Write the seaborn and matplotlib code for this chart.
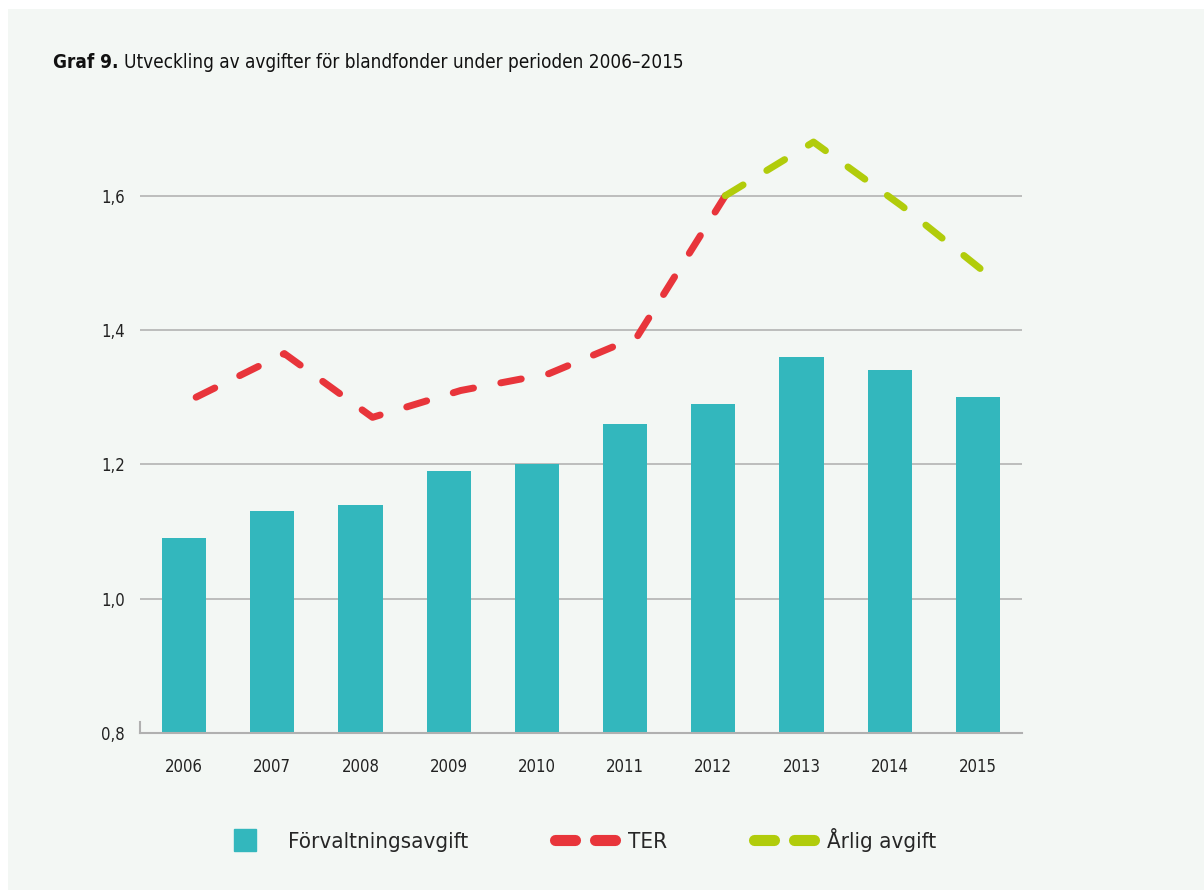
import numpy as np
import pandas as pd
import seaborn as sns
import matplotlib.pyplot as plt
from matplotlib.lines import Line2D
from matplotlib.patches import Rectangle
from matplotlib.ticker import FuncFormatter
from matplotlib.transforms import ScaledTranslation

# data
years = ['2006', '2007', '2008', '2009', '2010', '2011', '2012', '2013', '2014', '2015']
forvaltning = [1.09, 1.13, 1.14, 1.19, 1.20, 1.26, 1.29, 1.36, 1.34, 1.30]
ter = [1.30, 1.365, 1.27, 1.31, 1.335, 1.39, 1.60, np.nan, np.nan, np.nan]
arlig = [np.nan, np.nan, np.nan, np.nan, np.nan, np.nan, 1.60, 1.68, 1.585, 1.48]

teal = '#33b7bd'
red = '#e8353b'
green = '#b1cc0b'
bg = '#f3f7f4'

sns.set_style('white')
plt.rcParams['font.family'] = ['Liberation Sans Narrow', 'DejaVu Sans']
plt.rcParams['font.stretch'] = 'condensed'

df = pd.DataFrame({'year': years, 'forv': forvaltning, 'ter': ter, 'arlig': arlig})

fig = plt.figure(figsize=(12.04, 8.9), dpi=100, facecolor='white')
fig.patches.append(Rectangle((8 / 1204, 0), 1, 1 - 9 / 890, transform=fig.transFigure,
                             facecolor=bg, edgecolor='none', zorder=-10))
ax = fig.add_axes([140 / 1204, 1 - 733 / 890, 882 / 1204, 638 / 890])
ax.set_facecolor('none')

sns.barplot(data=df, x='year', y='forv', order=years, color=teal, width=0.5,
            saturation=1, linewidth=0, edgecolor='none', ax=ax, zorder=2)

# lines are drawn a bit right of the bar centres in the original
shift = ScaledTranslation(12 / 100, 0, fig.dpi_scale_trans)
for col, c in [('ter', red), ('arlig', green)]:
    n0 = len(ax.lines)
    sns.pointplot(data=df, x='year', y=col, order=years, color=c, markers='',
                  errorbar=None, ax=ax)
    for ln in ax.lines[n0:]:
        ln.set_linewidth(5)
        ln.set_linestyle((0, (3, 4)))
        ln.set_dash_capstyle('round')
        ln.set_solid_capstyle('round')
        ln.set_zorder(3)
        ln.set_transform(ln.get_transform() + shift)

ax.set_xlim(-0.5, 9.5)
ax.set_ylim(0.8, 1.75)
ax.set_yticks([0.8, 1.0, 1.2, 1.4, 1.6])
ax.yaxis.set_major_formatter(FuncFormatter(lambda v, p: f'{v:.1f}'.replace('.', ',')))
ax.grid(axis='y', color='#b8b8b8', lw=1.3, zorder=0)
ax.set_axisbelow(True)
ax.set_xlabel('')
ax.set_ylabel('')
ax.tick_params(axis='both', length=0, labelsize=12, colors='#222222')
ax.tick_params(axis='x', pad=18)
ax.tick_params(axis='y', pad=11)
for s in ['top', 'right']:
    ax.spines[s].set_visible(False)
ax.spines['bottom'].set_color('#b0b0b0')
ax.spines['bottom'].set_linewidth(1.5)
ax.spines['left'].set_color('#b0b0b0')
ax.spines['left'].set_linewidth(1.5)
ax.spines['left'].set_bounds(0.8, 0.817)

# title: bold prefix + regular text
t1 = fig.text(53 / 1204, 1 - 62 / 890, 'Graf 9.', fontsize=13.6, fontweight='bold',
              va='center', ha='left', color='#111111')
r = fig.canvas.get_renderer()
bb = t1.get_window_extent(r)
fig.text((bb.x1 + 6) / 1204, 1 - 62 / 890,
         'Utveckling av avgifter för blandfonder under perioden 2006–2015',
         fontsize=13.6, va='center', ha='left', color='#111111')

handles = [
    Line2D([], [], marker='s', markersize=16.5, color=teal, linestyle='none'),
    Line2D([], [], color=red, lw=8, linestyle=(0, (1.8, 1.8)), dash_capstyle='round'),
    Line2D([], [], color=green, lw=8, linestyle=(0, (1.8, 1.8)), dash_capstyle='round'),
]
fig.legend(handles, ['Förvaltningsavgift', 'TER', 'Årlig avgift'], loc='center',
           bbox_to_anchor=(0.478, 1 - 840 / 890), ncol=3, frameon=False, fontsize=16,
           handlelength=2.7, handletextpad=0.6, columnspacing=3.9)

fig.savefig('out.png', dpi=100, facecolor='white')
